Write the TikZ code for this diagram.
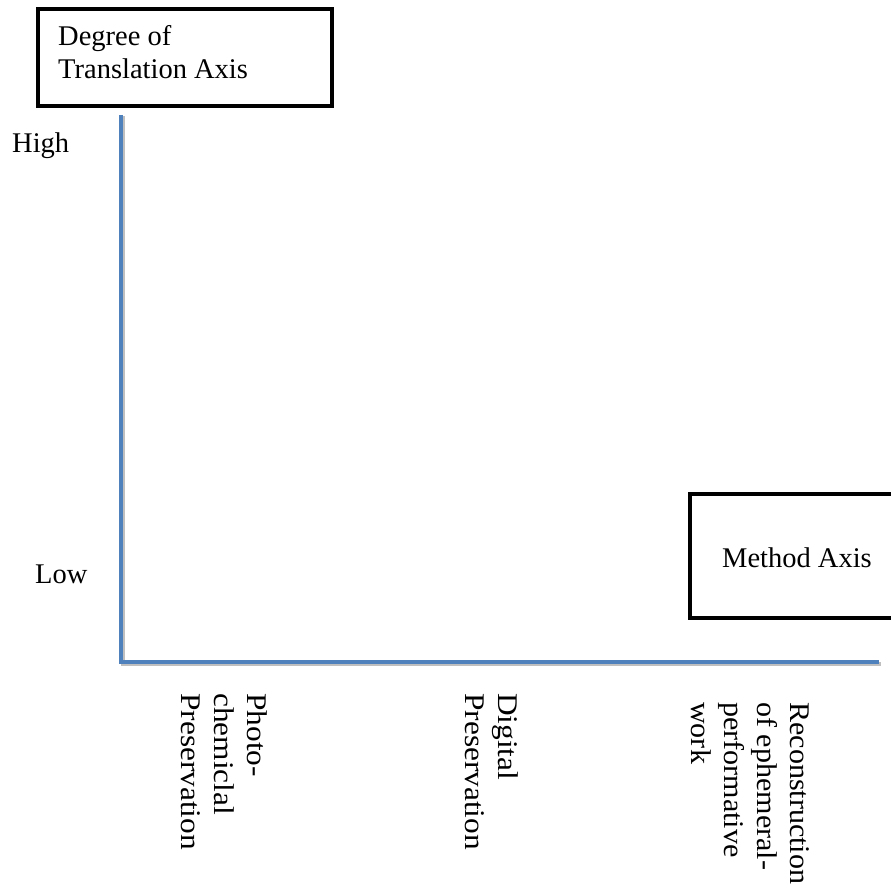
\documentclass[tikz,border=0pt]{standalone}
\usepackage{fontspec}
\setmainfont{Liberation Serif}
\definecolor{axisblue}{RGB}{79,129,189}
\begin{document}
\begin{tikzpicture}[x=1pt,y=-1pt,
  lbl/.style={inner sep=0pt, font=\fontsize{28.5}{33}\selectfont},
  boxline/.style={draw=black, line width=4pt},
  axisline/.style={draw=axisblue, line width=4pt, line join=miter},
  vlabel/.style={lbl, rotate=-90, xscale=1.1, align=left, anchor=north west}]
\useasboundingbox (0,0) rectangle (891,888);
\fill[white] (0,0) rectangle (891,888);
% Degree of Translation box
\draw[boxline] (37.5,9.5) rectangle (332,106);
\node[lbl, anchor=base west] (deg1) at (58,46) {Degree of};
\node[lbl, anchor=base west] (deg2) at (58,79) {Translation Axis};
% Method axis box (right edge cut off)
\coordinate (mtr) at (893,494);
\coordinate (mtl) at (690,494);
\coordinate (mbl) at (690,618);
\coordinate (mbr) at (893,618);
\draw[boxline] (mtr) -- (mtl) -- (mbl) -- (mbr);
\node[lbl, anchor=base west] (meth) at (722,567) {Method Axis};
% axis labels
\node[lbl, anchor=base west] (high) at (12,153) {High};
\node[lbl, anchor=base west] (low) at (35,583) {Low};
% axes
\coordinate (ytop) at (121,115);
\coordinate (orig) at (121,662);
\coordinate (xend) at (879,662);
\draw[draw=black!25, line width=4pt] ([shift={(1.5,1.5)}]ytop) -- ([shift={(1.5,1.5)}]orig) -- ([shift={(1.5,1.5)}]xend);
\draw[axisline] (ytop) -- (orig) -- (xend);
% method labels
\node[vlabel] (photo) at (267,693) {Photo-\\chemiclal\\Preservation};
\node[vlabel] (digital) at (518,693) {Digital\\Preservation};
\node[vlabel, xscale=0.96] (recon) at (810,702) {Reconstruction\\of ephemeral-\\performative\\work};
\end{tikzpicture}
\end{document}
